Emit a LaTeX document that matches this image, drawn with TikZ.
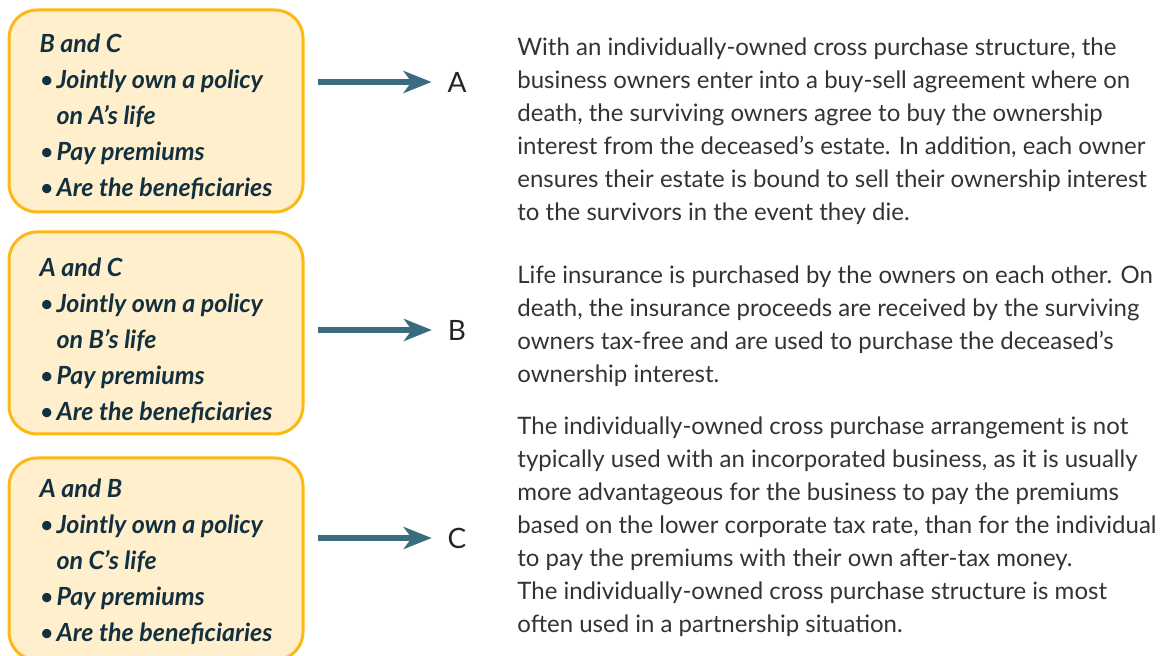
\documentclass[tikz,border=0pt]{standalone}
\usepackage{fontspec}
\setmainfont{Lato}
\usepackage{xcolor}
\usetikzlibrary{positioning,arrows.meta}

\definecolor{ownfill}{HTML}{FFEFCC}
\definecolor{ownline}{HTML}{FDB913}
\definecolor{ownink}{HTML}{12303F}
\definecolor{flowteal}{HTML}{3A6B7E}
\definecolor{bodyink}{HTML}{333333}

\newcommand{\bitem}[1]{\makebox[8.5pt][l]{\mdseries\textbullet}#1}
\newcommand{\bcont}[1]{\hspace*{8.5pt}#1}

\begin{document}
\begin{tikzpicture}[x=0.5pt,y=-0.5pt,
                    owner/.style={rectangle,draw=ownline,line width=1.5pt,
                    fill=ownfill,rounded corners=14pt,
                    minimum width=147pt,minimum height=101pt,
                    align=left,text=ownink,
                    font=\fontsize{12.5}{18}\selectfont\bfseries\itshape},
                    flow/.style={draw=flowteal,line width=3pt,
                    -{Stealth[length=14pt,width=11pt,inset=4pt]}},
                    lbl/.style={inner sep=0pt,outer sep=8pt,
                    text=black!85,font=\fontsize{14}{16}\selectfont},
                    para/.style={anchor=north west,inner sep=0pt,align=left,
                    text=bodyink,font=\fontsize{12}{16.5}\selectfont}]
    \useasboundingbox (0,0) rectangle (1171,656);

    % the three policies
    \node[owner] (boxA) at (156,111) {\rule{0pt}{15pt}B and C\\
        \bitem{Jointly own a policy}\\ \bcont{on A’s life}\\
        \bitem{Pay premiums}\\ \bitem{Are the beneficiaries}};
    \node[owner] (boxB) at (156,333) {\rule{0pt}{17pt}A and C\\
        \bitem{Jointly own a policy}\\ \bcont{on B’s life}\\
        \bitem{Pay premiums}\\ \bitem{Are the beneficiaries}};
    \node[owner] (boxC) at (156,559) {\rule{0pt}{12pt}A and B\\
        \bitem{Jointly own a policy}\\ \bcont{on C’s life}\\
        \bitem{Pay premiums}\\ \bitem{Are the beneficiaries}};

    % insured owners
    \node[lbl] (labA) at (457,82) {A};
    \node[lbl] (labB) at (457,330) {B};
    \node[lbl] (labC) at (457,538) {C};
    \coordinate (tailA) at (318,82);
    \coordinate (tailB) at (318,330);
    \coordinate (tailC) at (318,538);
    \draw[flow] (tailA) -- (labA.west);
    \draw[flow] (tailB) -- (labB.west);
    \draw[flow] (tailC) -- (labC.west);

    % explanation
    \node[para] (txtOne) at (517,32) {\strut With an individually-owned cross purchase structure, the\\
        business owners enter into a buy-sell agreement where on\\
        death, the surviving owners agree to buy the ownership\\
        interest from the deceased’s estate. In addition, each owner\\
        ensures their estate is bound to sell their ownership interest\\
        to the survivors in the event they die.};
    \node[para] (txtTwo) at (517,260) {\strut Life insurance is purchased by the owners on each other. On\\
        death, the insurance proceeds are received by the surviving\\
        owners tax-free and are used to purchase the deceased’s\\
        ownership interest.};
    \node[para] (txtThree) at (517,411) {\strut The individually-owned cross purchase arrangement is not\\
        typically used with an incorporated business, as it is usually\\
        more advantageous for the business to pay the premiums\\
        based on the lower corporate tax rate, than for the individual\\
        to pay the premiums with their own after-tax money.\\
        The individually-owned cross purchase structure is most\\
        often used in a partnership situation.};
\end{tikzpicture}
\end{document}
